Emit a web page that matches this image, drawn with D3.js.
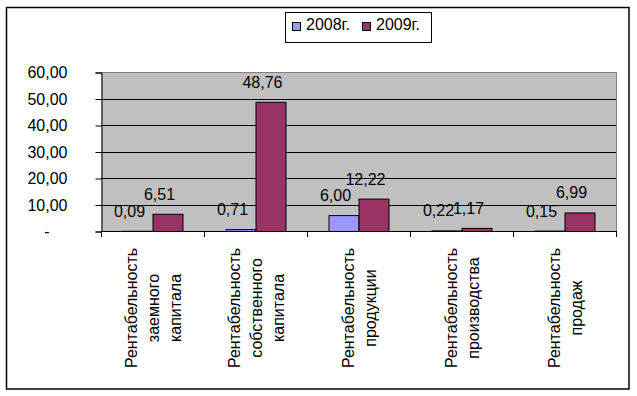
<!DOCTYPE html>
<html>
<head>
<meta charset="utf-8">
<script src="https://cdn.jsdelivr.net/npm/d3@7"></script>
<style>
  html, body { margin: 0; padding: 0; background: #fff; }
  svg { display: block; font-family: "Liberation Sans", Arial, sans-serif; }
</style>
</head>
<body>
<svg id="chart" width="637" height="396"></svg>
<script>
const categories = [
  "Рентабельность заемного капитала",
  "Рентабельность собственного капитала",
  "Рентабельность продукции",
  "Рентабельность производства",
  "Рентабельность продаж"
];
const seriesNames = ["2008г.", "2009г."];
const values2008 = [0.09, 0.71, 6.00, 0.22, 0.15];
const values2009 = [6.51, 48.76, 12.22, 1.17, 6.99];
const yTicks = [0, 10, 20, 30, 40, 50, 60];
const seriesColors = ["#9999FF", "#993366"];

const svg = d3.select("#chart");
const W = 637, H = 396;
const plot = { left: 101, right: 616, top: 72, bottom: 231 };

const fmt = v => v === 0 ? "-" : d3.format(".2f")(v).replace(".", ",");

// Outer frame
svg.append("rect").attr("x", 6.5).attr("y", 7.5).attr("width", 622.5).attr("height", 381.5)
  .attr("fill", "#fff").attr("stroke", "#000").attr("stroke-width", 1.5);

const x = d3.scaleBand().domain(categories).range([plot.left, plot.right]).paddingInner(0).paddingOuter(0);
const xs = d3.scaleBand().domain(seriesNames).range([0, x.bandwidth()]).paddingInner(0).paddingOuter(0.717);
const y = d3.scaleLinear().domain([0, 60]).range([plot.bottom, plot.top]);

// Plot background
svg.append("rect").attr("x", plot.left).attr("y", plot.top)
  .attr("width", plot.right - plot.left).attr("height", plot.bottom - plot.top)
  .attr("fill", "#C0C0C0");

// Gridlines
svg.append("g").selectAll("line").data(yTicks.filter(t => t > 0 && t < 60)).join("line")
  .attr("x1", plot.left).attr("x2", plot.right)
  .attr("y1", d => Math.round(y(d)) + 0.5).attr("y2", d => Math.round(y(d)) + 0.5)
  .attr("stroke", "#000").attr("stroke-width", 1);

// Plot border top/right (gray)
svg.append("path")
  .attr("d", `M${plot.left},${plot.top + 0.5}H${plot.right + 0.5}V${plot.bottom}`)
  .attr("fill", "none").attr("stroke", "#808080").attr("stroke-width", 1);

// Bars
const series = [values2008, values2009];
series.forEach((vals, si) => {
  svg.append("g").selectAll("rect").data(vals).join("rect")
    .attr("x", (d, i) => x(categories[i]) + xs(seriesNames[si]) + 0.5)
    .attr("y", d => y(d) + 0.5)
    .attr("width", xs.bandwidth())
    .attr("height", d => Math.max(0, y(0) - y(d)))
    .attr("fill", seriesColors[si])
    .attr("stroke", "#000").attr("stroke-width", 1);
});

// Y axis
const yAxis = d3.axisLeft(y).tickValues(yTicks).tickSize(6).tickPadding(28).tickFormat(fmt);
const gy = svg.append("g").attr("transform", `translate(${plot.left + 0.5},0.5)`).call(yAxis);
gy.select(".domain").attr("stroke", "#000");
gy.selectAll(".tick line").attr("stroke", "#000");
gy.selectAll(".tick text").attr("font-size", 16).attr("fill", "#000")
  .attr("font-family", "Liberation Sans, Arial, sans-serif")
  .attr("dx", d => d === 0 ? -18 : 0);

// X axis baseline and ticks at band boundaries
const xBounds = categories.map(c => x(c)).concat([x.range()[1]]);
const gx = svg.append("g");
gx.append("line").attr("x1", plot.left).attr("x2", plot.right + 0.5)
  .attr("y1", y(0) + 0.5).attr("y2", y(0) + 0.5).attr("stroke", "#000");
gx.selectAll("line.tk").data(xBounds).join("line").attr("class", "tk")
  .attr("x1", d => Math.round(d) + 0.5).attr("x2", d => Math.round(d) + 0.5)
  .attr("y1", y(0)).attr("y2", y(0) + 6).attr("stroke", "#000");

// Category labels (rotated, wrapped by words)
const lineGap = 22;
categories.forEach(c => {
  const words = c.split(" ");
  const cx = x(c) + x.bandwidth() / 2 + 6;
  const n = words.length;
  words.forEach((w, i) => {
    const bx = cx + (i - (n - 1) / 2) * lineGap;
    svg.append("text")
      .attr("transform", `translate(${bx},308) rotate(-90)`)
      .attr("text-anchor", "middle")
      .attr("font-size", 16).attr("fill", "#000")
      .text(w);
  });
});

// Value labels
series.forEach((vals, si) => {
  svg.append("g").selectAll("text").data(vals).join("text")
    .attr("x", (d, i) => x(categories[i]) + xs(seriesNames[si]) + xs.bandwidth() / 2 - 8)
    .attr("y", d => y(d) - 14)
    .attr("text-anchor", "middle")
    .attr("font-size", 16).attr("fill", "#000")
    .text(d => fmt(d));
});

// Legend
const lg = svg.append("g");
lg.append("rect").attr("x", 285.5).attr("y", 12.5).attr("width", 146).attr("height", 30)
  .attr("fill", "#fff").attr("stroke", "#000");
const legendX = [292, 362];
seriesNames.forEach((s, i) => {
  lg.append("rect").attr("x", legendX[i] + 0.5).attr("y", 22.5).attr("width", 8).attr("height", 8)
    .attr("fill", seriesColors[i]).attr("stroke", "#000");
  lg.append("text").attr("x", legendX[i] + 14).attr("y", 30)
    .attr("font-size", 16).attr("fill", "#000").text(s);
});
</script>
</body>
</html>
